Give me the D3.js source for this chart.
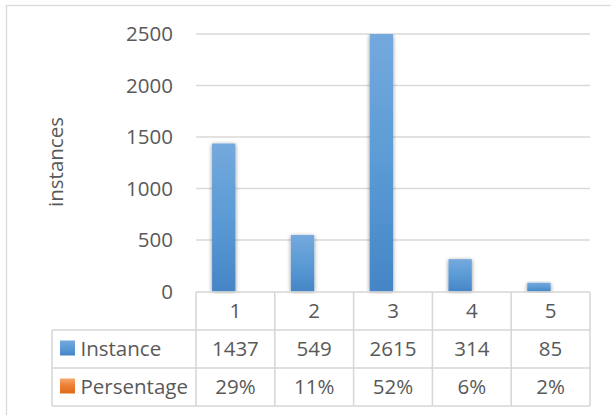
<!DOCTYPE html>
<html>
<head>
<meta charset="utf-8">
<script src="https://cdn.jsdelivr.net/npm/d3@7"></script>
<style>
  html, body { margin: 0; padding: 0; background: #fff; }
  svg { display: block; }
  text { font-family: "Open Sans", "Liberation Sans", sans-serif; fill: #595959; }
</style>
</head>
<body>
<svg id="chart" width="611" height="415"></svg>
<script>
// Data
const categories = ["1", "2", "3", "4", "5"];
const seriesNames = ["Instance", "Persentage"];
const instanceValues = [1437, 549, 2615, 314, 85];
const percentValues = [29, 11, 52, 6, 2];
const yTicks = [0, 500, 1000, 1500, 2000, 2500];
const yTitle = "instances";

const svg = d3.select("#chart");
const W = 611, H = 415;
const fontSize = 20.5;

// Chart frame
svg.append("rect")
  .attr("x", 6.5).attr("y", 5.5)
  .attr("width", W + 10).attr("height", H + 10)
  .attr("fill", "#fff").attr("stroke", "#d9d9d9").attr("stroke-width", 1.3);

// Plot geometry
const plot = { left: 196, right: 590, top: 34, bottom: 291.5 };
const table = { left: 52, rowH: 38, top: 292 };

const x0 = d3.scaleBand().domain(categories).range([plot.left, plot.right]).padding(0);
const x1 = d3.scaleBand().domain(seriesNames).range([0, x0.bandwidth()])
  .paddingInner(0).paddingOuter(0.69);
const y = d3.scaleLinear().domain([0, 2500]).range([plot.bottom, plot.top]);

// Gradients and shadow
const defs = svg.append("defs");
function vGrad(id, stops) {
  const g = defs.append("linearGradient").attr("id", id)
    .attr("x1", 0).attr("y1", 0).attr("x2", 0).attr("y2", 1);
  stops.forEach(([o, c]) => g.append("stop").attr("offset", o).attr("stop-color", c));
}
vGrad("gBlue", [["0%", "#74a9dd"], ["50%", "#5b9bd5"], ["100%", "#4585c6"]]);
vGrad("gOrange", [["0%", "#f6a66c"], ["50%", "#ed7d31"], ["100%", "#dd6c1c"]]);
const f = defs.append("filter").attr("id", "shadow")
  .attr("x", "-50%").attr("y", "-10%").attr("width", "200%").attr("height", "120%");
f.append("feGaussianBlur").attr("in", "SourceAlpha").attr("stdDeviation", 2.2).attr("result", "b");
f.append("feOffset").attr("in", "b").attr("dx", 0).attr("dy", 0.5).attr("result", "o");
f.append("feComponentTransfer").attr("in", "o").attr("result", "s")
  .append("feFuncA").attr("type", "linear").attr("slope", 0.45);
const m = f.append("feMerge");
m.append("feMergeNode").attr("in", "s");
m.append("feMergeNode").attr("in", "SourceGraphic");

defs.append("clipPath").attr("id", "plotClip")
  .append("rect").attr("x", plot.left - 10).attr("y", plot.top)
  .attr("width", plot.right - plot.left + 20).attr("height", plot.bottom - plot.top + 2);

// Gridlines
svg.append("g").selectAll("line").data(yTicks.filter(t => t > 0)).join("line")
  .attr("x1", plot.left).attr("x2", plot.right)
  .attr("y1", d => y(d)).attr("y2", d => y(d))
  .attr("stroke", "#d9d9d9").attr("stroke-width", 1.4);

// Y axis tick labels
svg.append("g").selectAll("text").data(yTicks).join("text")
  .attr("x", 173).attr("y", d => y(d))
  .attr("dy", "0.36em")
  .attr("text-anchor", "end")
  .attr("font-size", fontSize)
  .text(d => d);

// Y axis title
svg.append("text")
  .attr("transform", `translate(63,162) rotate(-90)`)
  .attr("text-anchor", "middle")
  .attr("font-size", fontSize)
  .text(yTitle);

// Bars
const rows = categories.map((c, i) => ({
  cat: c,
  vals: [
    { s: "Instance", v: instanceValues[i], fill: "url(#gBlue)" },
    { s: "Persentage", v: percentValues[i] / 100, fill: "url(#gOrange)" }
  ]
}));
const barG = svg.append("g").attr("clip-path", "url(#plotClip)");
barG.selectAll("g").data(rows).join("g")
  .attr("transform", d => `translate(${x0(d.cat)},0)`)
  .selectAll("rect").data(d => d.vals).join("rect")
  .attr("x", d => x1(d.s))
  .attr("width", x1.bandwidth())
  .attr("y", d => y(Math.min(d.v, 2500)))
  .attr("height", d => y(0) - y(Math.min(d.v, 2500)))
  .attr("fill", d => d.fill)
  .attr("filter", "url(#shadow)");

// Data table
const lineColor = "#d6d6d6";
const tG = svg.append("g").attr("stroke", lineColor).attr("stroke-width", 1.5);
const rTop = table.top, r1 = rTop + table.rowH, r2 = r1 + table.rowH, r3 = r2 + table.rowH;
[[plot.left, rTop], [table.left, r1], [table.left, r2], [table.left, r3]].forEach(([xs, yy]) => {
  tG.append("line").attr("x1", xs).attr("x2", plot.right).attr("y1", yy).attr("y2", yy);
});
tG.append("line").attr("x1", table.left).attr("x2", table.left).attr("y1", r1).attr("y2", r3);
const colEdges = [plot.left].concat(categories.map(c => x0(c) + x0.bandwidth()));
colEdges.forEach(xx => tG.append("line").attr("x1", xx).attr("x2", xx).attr("y1", rTop).attr("y2", r3));

// Table text
const rowMid = i => rTop + table.rowH * (i + 0.5);
svg.append("g").selectAll("text").data(categories).join("text")
  .attr("x", d => x0(d) + x0.bandwidth() / 2).attr("y", rowMid(0)).attr("dy", "0.36em")
  .attr("text-anchor", "middle").attr("font-size", fontSize).text(d => d);
svg.append("g").selectAll("text").data(instanceValues).join("text")
  .attr("x", (d, i) => x0(categories[i]) + x0.bandwidth() / 2).attr("y", rowMid(1)).attr("dy", "0.36em")
  .attr("text-anchor", "middle").attr("font-size", fontSize).text(d => d);
svg.append("g").selectAll("text").data(percentValues).join("text")
  .attr("x", (d, i) => x0(categories[i]) + x0.bandwidth() / 2).attr("y", rowMid(2)).attr("dy", "0.36em")
  .attr("text-anchor", "middle").attr("font-size", fontSize).text(d => d + "%");

// Legend keys in row headers
const keyFills = ["url(#gBlue)", "url(#gOrange)"];
seriesNames.forEach((s, i) => {
  const cy = rowMid(i + 1) - 1;
  svg.append("rect").attr("x", 60).attr("y", cy - 7.5).attr("width", 15).attr("height", 15)
    .attr("fill", keyFills[i]);
  svg.append("text").attr("x", 80.5).attr("y", cy + 1).attr("dy", "0.36em")
    .attr("font-size", fontSize).text(s);
});
</script>
</body>
</html>
